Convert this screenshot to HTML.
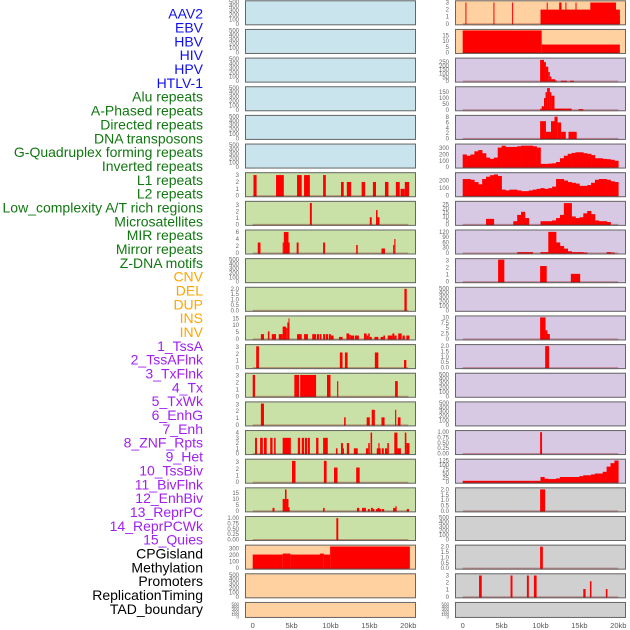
<!DOCTYPE html>
<html><head><meta charset="utf-8"><style>
html,body{margin:0;padding:0;background:#fff;width:630px;height:630px;overflow:hidden}
svg{display:block}
</style></head><body>
<svg id="chart" width="630" height="630" viewBox="0 0 630 630" xmlns="http://www.w3.org/2000/svg"></svg>
<script>
const labels = ["AAV2","EBV","HBV","HIV","HPV","HTLV-1","Alu repeats","A-Phased repeats","Directed repeats","DNA transposons","G-Quadruplex forming repeats","Inverted repeats","L1 repeats","L2 repeats","Low_complexity A/T rich regions","Microsatellites","MIR repeats","Mirror repeats","Z-DNA motifs","CNV","DEL","DUP","INS","INV","1_TssA","2_TssAFlnk","3_TxFlnk","4_Tx","5_TxWk","6_EnhG","7_Enh","8_ZNF_Rpts","9_Het","10_TssBiv","11_BivFlnk","12_EnhBiv","13_ReprPC","14_ReprPCWk","15_Quies","CPGisland","Methylation","Promoters","ReplicationTiming","TAD_boundary"];
const labelGroups = [6,13,5,15,5];
const xTicks = [0,5,10,15,20];
const xTickLabels = ["0","5kb","10kb","15kb","20kb"];
const T_EMPTY = [0,100,200,300,400,500];
const T3 = [0,1,2,3];
const T2 = [0,0.5,1,1.5,2];
const T1 = [0,0.25,0.5,0.75,1];
// right-column data (kb start, kb end, value)
const R0 = [[10.0,20.2,2],[16.4,19.7,3],[19.7,20.2,1.2],[0.35,0.45,3],[3.95,4.05,3],[6.35,6.45,3],[10.8,10.9,3],[12.4,12.7,3],[13.2,13.3,3],[14.5,14.6,3]];
const R1 = [[0,10.15,19.5],[10.15,20.2,7]];
const R2 = [[9.95,10.45,280],[10.45,10.7,250],[10.7,11.0,190],[11.0,11.2,120],[11.2,11.4,60],[11.4,11.9,25],[11.9,12.1,8],[12.6,13.4,5],[13.8,14.3,5]];
const R3 = [[9.95,10.15,8],[10.15,10.45,30],[10.45,10.65,100],[10.65,10.85,150],[10.85,11.2,185],[11.2,11.4,150],[11.4,11.8,120],[11.8,14.0,10],[14.9,15.5,5]];
const R4 = [[9.95,10.7,6.5],[10.7,11.35,2.5],[11.35,11.8,6.5],[11.8,12.2,8.2],[12.2,12.65,6],[12.65,13.25,2.5],[13.6,14.65,2.5]];
const R5bins = [200,180,200,250,270,220,150,130,150,310,340,320,320,320,330,340,340,340,330,310,50,50,55,60,80,140,180,210,225,235,235,220,210,190,140,140,130,125,115,100];
const R6bins = [220,220,210,180,150,220,250,270,280,260,80,70,80,80,70,60,60,70,80,90,100,90,100,120,220,220,200,180,170,160,130,130,140,170,210,220,220,210,190,180];
const R7bins = [0,0,0,0,0,0,7,7,0,0,0,0,0,4,12,16,8,0,0,0,4,4,4,5,8,12,27,27,10,8,9,14,17,13,5,4,4,3,0,0];
const R8bins = [0,0,0,0,0,0,0,0,0,0,0,0,0,0,5,5,5,5,0,0,5,5,120,120,60,40,25,10,5,5,5,3,0,0,0,0,0,5,3,0];
const R9 = [[4.55,5.35,3.1],[9.95,10.8,2.2],[13.9,15.1,1.1]];
const R11 = [[9.95,10.65,10],[10.65,10.9,4],[10.9,11.2,2.3]];
const R12 = [[10.6,11.1,2]];
const R15 = [[9.95,10.2,1]];
const R16bins = [8,8,8,8,8,8,8,8,8,8,8,8,8,8,8,8,8,8,8,8,30,20,18,18,22,30,30,30,30,30,35,40,40,45,50,50,60,90,110,125];
const R17 = [[9.95,10.6,2]];
const R19 = [[9.95,10.3,2]];
const R20 = [[2.1,2.45,3],[6.15,6.4,3],[8.25,8.5,3],[9.15,9.5,3],[15.5,15.8,1.1],[16.35,16.55,2.2],[18.4,18.6,1.1]];
// left-column data
const L6 = [[0.1,0.5,3],[3,4,3],[5.7,6.3,3],[6.6,7.35,3],[9.05,9.4,3],[11.35,11.7,2],[12.1,12.65,2],[14,14.45,2],[15.45,15.85,2],[17,17.45,2],[18.4,18.9,2],[19,19.55,1],[19.55,20.1,2]];
const L7 = [[7.35,7.6,3.3],[15.05,15.3,1.1],[15.85,16.05,2.2],[16.05,16.3,1.1]];
const L8 = [[0.65,1.0,3],[3.85,4.0,3],[4.0,4.6,6],[4.6,4.75,3],[5.65,5.9,3],[9.05,9.3,3],[13.3,13.5,2.3],[16.55,17,1.3],[18.05,18.2,2.3],[18.2,18.35,4]];
const L10 = [[19.5,19.8,2]];
const L11 = [[1.05,1.45,3.5],[1.95,2.15,5.5],[2.45,3.0,3.5],[3.35,3.85,3.5],[3.85,4.3,9],[4.3,4.45,8],[4.45,4.6,12],[4.6,4.7,15],[5.7,6.3,3.5],[6.6,7.1,3.5],[7.65,8.15,3.5],[8.25,8.55,3.5],[8.65,8.85,3.5],[9.05,9.3,3.5],[9.4,9.7,3.5],[9.8,10.05,3.5],[10.05,10.4,2.5],[11.1,11.55,1.5],[12.05,12.4,4],[12.4,12.6,3],[12.6,13.05,2.5],[13.15,13.65,2.5],[14.3,14.65,4],[14.65,14.85,2.5],[14.85,15.05,4],[15.05,15.3,1.5],[15.65,16.15,1.5],[16.45,16.8,1.5],[16.8,17,2.5],[17.35,17.95,2.5],[17.95,18.2,4],[18.2,18.5,2.5],[18.7,19.15,4],[19.25,19.55,2.5],[19.75,20.15,2.5]];
const L12 = [[0.45,0.8,3.1],[11.2,11.55,2.2],[11.85,12.2,2.2],[15.7,16.15,2.2],[19.45,19.75,1.1]];
const L13 = [[0,0.3,3.1],[5.35,5.95,3.1],[6.1,8.15,3.1],[9.55,10.0,3.1],[10.85,11.0,2.2],[18.3,18.65,2.2]];
const L14 = [[1.05,1.45,3.1],[11.75,11.95,1.1],[14.65,15.05,1.1],[15.3,15.7,2.2],[16.55,16.95,1.1],[18.3,18.45,2.2],[18.65,19,1.1]];
const L15 = [[0.3,0.55,3],[0.95,1.3,3],[1.45,1.8,3],[2.25,2.55,3],[2.75,2.95,3],[3.85,4.9,3],[5.8,6.1,3],[6.3,6.6,3],[6.7,7.0,3],[7.1,7.35,3],[8.15,8.45,3],[9.05,9.65,3],[10.7,10.9,1],[11.35,11.6,2],[11.6,11.7,1],[12.1,12.4,2],[13.0,13.5,1],[14.55,14.85,1],[14.85,15.05,2],[15.15,15.35,4],[15.95,16.45,1],[16.15,16.3,2],[16.6,16.85,1],[17,17.3,1],[17.3,17.5,2],[18.2,18.6,4],[18.6,19.05,1],[19.55,19.75,4],[19.75,20.15,2]];
const L16 = [[5.05,5.5,3.2],[9.15,9.5,3.2],[10.45,10.9,2.2],[13.3,13.75,2.2]];
const L17 = [[2.55,2.8,2.5],[3.85,4.15,10],[4.15,4.35,18],[4.35,4.6,10],[4.6,4.75,3],[9.05,9.25,2.5],[13.4,13.7,2.5],[14.05,14.55,2.5],[14.8,15.05,1.5],[15.2,15.45,2.5],[15.45,15.65,1.5],[15.85,16.05,1.5],[16.05,16.3,2.5],[16.3,16.5,1.5],[16.6,16.9,1.5],[18.05,18.35,2.5],[18.35,18.5,4],[19.8,20.1,1.5]];
const L18 = [[10.75,11.0,1]];
const L19 = [[0,3.85,210],[3.85,4.85,225],[4.85,8.65,210],[8.65,9.15,225],[9.15,9.95,210],[9.95,20.2,335]];

const BLUE="#c9e4ec", GREEN="#c9e1a7", ORANGE="#ffd0a0", PURPLE="#d7c8e3", GRAY="#d0d0d0";
const leftPanels = [
 {bg:BLUE},{bg:BLUE},{bg:BLUE},{bg:BLUE},{bg:BLUE},{bg:BLUE},
 {bg:GREEN,bars:L6,ymax:3.2,ticks:T3},{bg:GREEN,bars:L7,ymax:3.4,ticks:T3},
 {bg:GREEN,bars:L8,ymax:6.3,ticks:[0,2,4,6]},{bg:GREEN},
 {bg:GREEN,bars:L10,ymax:2.05,ticks:T2},{bg:GREEN,bars:L11,ymax:16,ticks:[0,5,10,15]},
 {bg:GREEN,bars:L12,ymax:3.2,ticks:T3},{bg:GREEN,bars:L13,ymax:3.2,ticks:T3},
 {bg:GREEN,bars:L14,ymax:3.2,ticks:T3},{bg:GREEN,bars:L15,ymax:4.2,ticks:[0,1,2,3,4]},
 {bg:GREEN,bars:L16,ymax:3.3,ticks:T3},{bg:GREEN,bars:L17,ymax:18.5,ticks:[0,5,10,15]},
 {bg:GREEN,bars:L18,ymax:1.03,ticks:T1},{bg:ORANGE,bars:L19,ymax:340,ticks:[0,100,200,300]},
 {bg:ORANGE},{bg:ORANGE}];
const rightPanels = [
 {bg:ORANGE,bars:R0,ymax:3.1,ticks:T3},{bg:ORANGE,bars:R1,ymax:19.5,ticks:[0,5,10,15]},
 {bg:PURPLE,bars:R2,ymax:290,ticks:[0,50,100,150,200,250]},{bg:PURPLE,bars:R3,ymax:188,ticks:[0,50,100,150]},
 {bg:PURPLE,bars:R4,ymax:8.3,ticks:[0,2,4,6,8]},{bg:PURPLE,bins:R5bins,ymax:350,ticks:[0,100,200,300]},
 {bg:PURPLE,bins:R6bins,ymax:290,ticks:[0,100,200]},{bg:PURPLE,bins:R7bins,ymax:28,ticks:[0,5,10,15,20,25]},
 {bg:PURPLE,bins:R8bins,ymax:125,ticks:[0,30,60,90,120]},{bg:PURPLE,bars:R9,ymax:3.1,ticks:T3},
 {bg:PURPLE},{bg:PURPLE,bars:R11,ymax:10.2,ticks:[0,2.5,5,7.5,10]},
 {bg:PURPLE,bars:R12,ymax:2.05,ticks:T2},{bg:PURPLE},{bg:PURPLE},
 {bg:PURPLE,bars:R15,ymax:1.03,ticks:T1},{bg:PURPLE,bins:R16bins,ymax:127,ticks:[0,25,50,75,100,125]},
 {bg:GRAY,bars:R17,ymax:2.05,ticks:T2},{bg:GRAY},{bg:GRAY,bars:R19,ymax:2.05,ticks:T2},
 {bg:GRAY,bars:R20,ymax:3.1,ticks:T3},{bg:GRAY}];

const NS="http://www.w3.org/2000/svg";
const svg=document.getElementById('chart');
function mk(tag,attrs){const e=document.createElementNS(NS,tag);for(const k in attrs)e.setAttribute(k,attrs[k]);return e;}
const labelColors=["#1010ee","#117711","#ffa500","#a020f0","#000000"];
let li=0;
labelGroups.forEach((n,g)=>{for(let j=0;j<n;j++){
  const t=mk('text',{x:203,y:15+13.84*li,'text-anchor':'end','dominant-baseline':'middle','font-family':'Liberation Sans, sans-serif','font-size':14,fill:labelColors[g]});
  
  
  t.textContent=labels[li];svg.appendChild(t);li++;}});

function fmt(v){return String(v);}
function drawColumn(panels,x0,x1,kb0,kb20,tickX,side){
  const xs=kb=>kb0+(kb20-kb0)*kb/20;
  panels.forEach((p,i)=>{
    const top=0.3+28.65*i, h=(i===21)?16:25, bot=top+h;
    const g=mk('g',{});
    
    
    svg.appendChild(g);
    const bg=mk('rect',{x:x0,y:top,width:x1-x0,height:h,fill:p.bg});
    
    
    g.appendChild(bg);
    const ymax=p.ymax||500, ticks=p.ticks||T_EMPTY;
    const yb=bot-1.5, yt=top+1.5;
    const ys=v=>yb-(yb-yt)*v/ymax;
    const hasData=!!(p.bars||p.bins);
    if(p.bins){p.bins.forEach((v,k)=>{if(v<=0)return;
      const r=mk('rect',{x:xs(k*0.5),y:ys(v),width:xs(k*0.5+0.5)-xs(k*0.5)+0.3,height:yb-ys(v)+1,fill:'#ff0000'});
      
      
      g.appendChild(r);});}
    if(p.bars){p.bars.forEach(b=>{
      const r=mk('rect',{x:xs(b[0]),y:ys(b[2]),width:Math.max(1,xs(b[1])-xs(b[0])),height:yb-ys(b[2])+1,fill:'#ff0000'});
      
      
      g.appendChild(r);});}
    if(hasData){const rug=mk('rect',{x:xs(0),y:yb-0.5,width:xs(20)-xs(0),height:2,fill:'rgba(140,0,0,0.35)'});
      
      
      g.appendChild(rug);}
    const border=mk('rect',{x:x0+0.5,y:top+0.5,width:x1-x0-1,height:h-1,fill:'none',stroke:'#666','stroke-width':1});
    
    
    g.appendChild(border);
    ticks.forEach(tv=>{const t=mk('text',{x:tickX,y:ys(tv)+2,'text-anchor':'end','font-family':'Liberation Sans, sans-serif','font-size':(h<20?4.5:6),fill:'#666'});
      
      
      t.textContent=(p.ticks===T2)?tv.toFixed(1):(p.ticks===T1?tv.toFixed(2):fmt(tv));g.appendChild(t);});
  });
  xTicks.forEach((kb,k)=>{const t=mk('text',{x:xs(kb),y:628,'text-anchor':'middle','font-family':'Liberation Sans, sans-serif','font-size':7.5,fill:'#555'});
    
    
    t.textContent=xTickLabels[k];svg.appendChild(t);});
}
drawColumn(leftPanels,245,416,252.7,408.3,239,'left');
drawColumn(rightPanels,455,626,462.7,618.3,449,'right');
</script>
</body></html>
